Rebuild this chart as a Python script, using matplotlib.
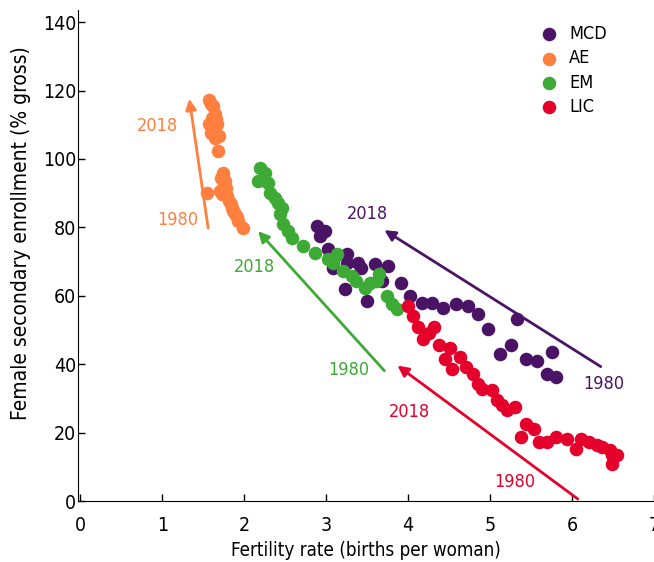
import matplotlib
matplotlib.use("Agg")
import matplotlib.pyplot as plt

plt.rcParams['font.family'] = ['DejaVu Sans']
plt.rcParams['font.stretch'] = 'condensed'

# data (fertility rate, enrollment)
ae_x = [1.57, 1.59, 1.62, 1.64, 1.61, 1.66, 1.57, 1.67, 1.63, 1.60, 1.69, 1.64, 1.68,
        1.74, 1.72, 1.77, 1.75, 1.78, 1.55, 1.71, 1.73, 1.79, 1.81, 1.84, 1.85, 1.86,
        1.89, 1.91, 1.92, 1.99]
ae_y = [117.3, 116.0, 115.5, 113.2, 112.0, 111.7, 110.3, 110.3, 108.8, 107.6, 106.7, 106.2, 102.3,
        95.9, 94.4, 93.5, 92.7, 91.5, 90.0, 90.6, 89.7, 89.1, 87.7, 86.8, 85.6, 84.8,
        83.9, 83.0, 81.8, 79.8]

em_x = [2.19, 2.25, 2.17, 2.29, 2.31, 2.38, 2.41, 2.46, 2.44, 2.47, 2.53, 2.58, 2.72,
        2.86, 3.02, 3.13, 3.08, 3.20, 3.31, 3.37, 3.47, 3.53, 3.65, 3.62, 3.74, 3.80, 3.87]
em_y = [97.4, 95.9, 93.5, 93.0, 90.0, 88.6, 87.1, 85.6, 83.9, 80.9, 78.9, 76.8, 74.5,
        72.4, 70.7, 72.1, 69.5, 67.2, 65.7, 64.2, 62.2, 63.6, 66.3, 64.2, 59.8, 57.5, 56.0]

mcd_x = [2.89, 2.98, 2.92, 3.02, 3.11, 3.25, 3.08, 3.26, 3.39, 3.43, 3.59, 3.75, 3.23,
         3.50, 3.68, 3.91, 4.02, 4.17, 4.29, 4.42, 4.59, 4.73, 4.85, 4.97, 5.33, 5.12,
         5.26, 5.44, 5.57, 5.75, 5.69, 5.81]
mcd_y = [80.4, 78.9, 77.4, 73.6, 71.6, 72.1, 68.0, 69.5, 69.5, 68.0, 69.2, 68.6, 61.9,
         58.4, 64.2, 63.6, 59.8, 57.8, 57.8, 56.3, 57.5, 56.9, 54.8, 50.4, 53.1, 43.1,
         45.7, 41.6, 40.8, 43.7, 37.0, 36.4]

lic_x = [4.00, 4.06, 4.12, 4.18, 4.26, 4.32, 4.38, 4.51, 4.45, 4.63, 4.54, 4.71, 4.79,
         4.85, 4.90, 5.02, 5.08, 5.14, 5.21, 5.30, 5.44, 5.54, 5.38, 5.60, 5.70, 5.81,
         5.94, 6.05, 6.11, 6.21, 6.30, 6.37, 6.46, 6.49, 6.55, 6.49]
lic_y = [56.9, 54.0, 51.0, 47.5, 49.0, 51.0, 45.7, 44.6, 41.6, 42.2, 38.7, 39.3, 37.0,
         34.3, 32.8, 32.6, 29.6, 28.2, 26.7, 27.6, 22.6, 21.1, 18.8, 17.3, 17.3, 18.8,
         18.2, 15.2, 18.2, 17.3, 16.4, 15.8, 15.0, 13.5, 13.5, 10.9]

# arrows: (1980 end, 2018 end) and label spots
arrows = {
    'AE':  ((1.56, 79.8), (1.33, 117.6), (1.19, 82.1), (0.94, 109.7)),
    'EM':  ((3.71, 38.1), (2.17, 78.9), (3.28, 38.4), (2.13, 68.3)),
    'MCD': ((6.35, 39.3), (3.71, 79.2), (6.39, 34.3), (3.50, 83.9)),
    'LIC': ((6.07, 0.6), (3.87, 39.6), (5.30, 5.6), (4.02, 26.1)),
}

colors = {'MCD': '#4b1366', 'AE': '#ff7f3f', 'EM': '#3caa35', 'LIC': '#e4002b'}

fig = plt.figure(figsize=(6.54, 5.62), dpi=100)
ax = fig.add_axes([0.119, 0.1085, 0.881, 0.874])

ax.scatter(mcd_x, mcd_y, s=95, color=colors['MCD'], label='MCD', zorder=3, linewidths=0)
ax.scatter(ae_x, ae_y, s=95, color=colors['AE'], label='AE', zorder=3, linewidths=0)
ax.scatter(em_x, em_y, s=95, color=colors['EM'], label='EM', zorder=3, linewidths=0)
ax.scatter(lic_x, lic_y, s=95, color=colors['LIC'], label='LIC', zorder=4, linewidths=0)

for k, (tail, head, l80, l18) in arrows.items():
    c = colors[k]
    ax.annotate('', xy=head, xytext=tail,
                arrowprops=dict(arrowstyle='-|>', color=c, lw=2, mutation_scale=16,
                                shrinkA=0, shrinkB=0))
    ax.text(l80[0], l80[1], '1980', color=c, fontsize=13, ha='center', va='center')
    ax.text(l18[0], l18[1], '2018', color=c, fontsize=13, ha='center', va='center')

ax.set_xlim(-0.03, 7.0)
ax.set_ylim(0, 143.6)
ax.set_xticks(range(0, 8))
ax.set_yticks(range(0, 141, 20))
ax.tick_params(direction='in', length=5, width=1, labelsize=14)
ax.tick_params(axis='x', pad=11)
ax.tick_params(axis='y', pad=1)
for s in ['top', 'right']:
    ax.spines[s].set_visible(False)
ax.set_xlabel('Fertility rate (births per woman)', fontsize=13.5, labelpad=4)
ax.set_ylabel('Female secondary enrollment (% gross)', fontsize=15)
ax.yaxis.set_label_coords(-0.081, 0.545)

leg = ax.legend(loc='upper right', bbox_to_anchor=(0.94, 0.995), frameon=False,
                fontsize=13, handletextpad=0.1, labelspacing=0.35, markerscale=1.0,
                borderaxespad=0.3)

fig.savefig('out.png', dpi=100)
